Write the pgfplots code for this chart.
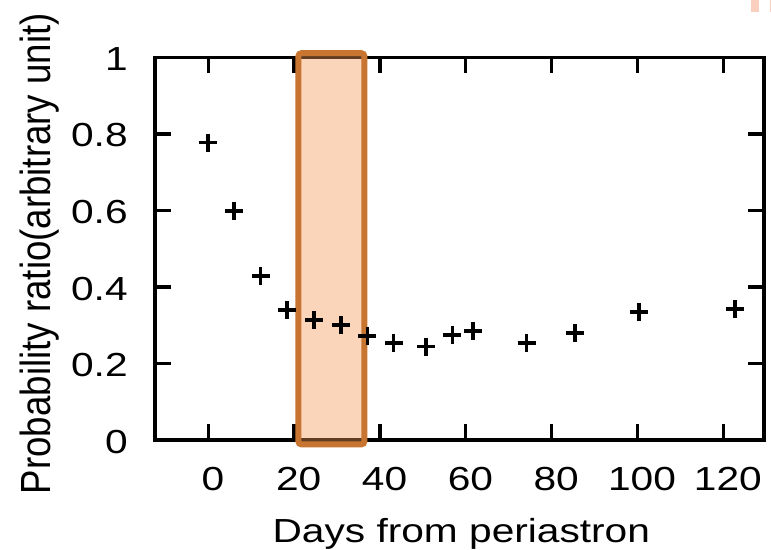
\documentclass[border=0pt]{standalone}
\usepackage{graphicx}
\usepackage{fontspec}
\setmainfont{Liberation Sans}
\newfontfamily\widefont{Liberation Sans}[FakeStretch=1.22]
\usepackage{pgfplots}
\pgfplotsset{compat=1.18}

\definecolor{boxfill}{RGB}{245,150,80}
\definecolor{boxline}{RGB}{200,117,50}
\definecolor{strip}{RGB}{252,208,190}

\begin{document}
\begin{tikzpicture}
  \begin{axis}[
      name=ax, at={(0,0)}, anchor=south west,
      scale only axis, width=182.7pt, height=114.8pt,
      xmin=-12.4, xmax=129.5, ymin=0, ymax=1,
      xtick={0,20,40,60,80,100,120},
      ytick={0,0.2,0.4,0.6,0.8,1},
      tick align=inside, major tick length=4.8pt,
      axis line style={line width=1pt},
      every tick/.style={black, line width=1pt},
      /pgf/number format/assume math mode=true,
      ticklabel style={font=\fontsize{10}{12}\widefont},
      xticklabel style={anchor=base, inner sep=0pt, yshift=-15.3pt, xshift=1.4pt},
      yticklabel style={anchor=east, inner sep=0pt, xshift=-8pt, yshift=-0.5pt},
      xlabel={Days from periastron},
      xlabel style={font=\fontsize{10}{12}\widefont, at={(axis description cs:0.503,0)},
        anchor=base, inner sep=0pt, yshift=-30.9pt},
      ylabel={\scalebox{1}[1.15]{Probability ratio(arbitrary unit)}},
      ylabel style={font=\fontsize{11}{13}\selectfont, at={(axis description cs:-0.1724,0.487)},
        anchor=base, inner sep=0pt},
      clip=false,
    ]
    \addplot[only marks, mark=+, mark size=2.7pt, black, line width=1.1pt] coordinates {
      (0,0.777) (6.0,0.598) (12.2,0.428) (18.3,0.340) (24.6,0.313)
      (30.9,0.300) (37.1,0.272) (43.2,0.253) (50.7,0.244) (56.9,0.274)
      (61.7,0.285) (74.2,0.254) (85.4,0.279) (100.3,0.334) (122.7,0.343)
    };
    \draw[boxline, line width=1.8pt, rounded corners=1pt, fill=boxfill, fill opacity=0.4]
      (axis cs:21,-0.0118) rectangle (axis cs:36.4,1.011);
  \end{axis}
  % pink strips cut at the upper right edge of the original figure
  \fill[strip] (178.8pt,128.4pt) rectangle (181.2pt,133pt);
  \fill[strip] (184.4pt,128.4pt) rectangle (186pt,133pt);
  \pgfresetboundingbox
  \path[use as bounding box] (-46.5pt,-33pt) rectangle (184.8pt,132pt);
\end{tikzpicture}
\end{document}
